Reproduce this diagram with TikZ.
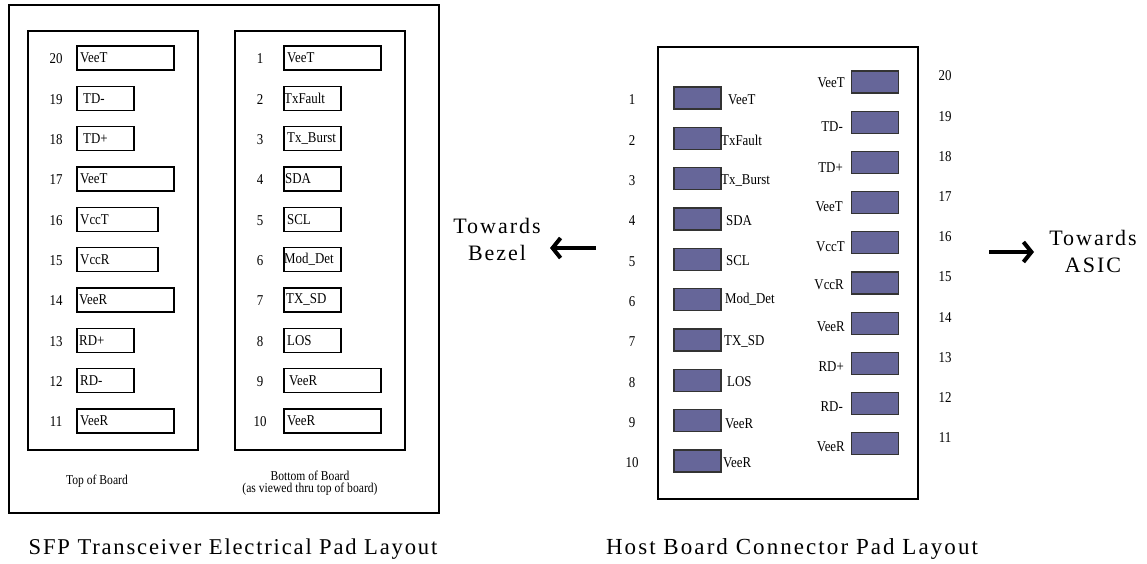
\documentclass[tikz,border=0pt]{standalone}
\usepackage{fontspec}
\setmainfont{Liberation Serif}
\newfontfamily\smallf[FakeStretch=0.86]{Liberation Serif}
\newfontfamily\spacedf[LetterSpace=9]{Liberation Serif}
\newfontfamily\spacedg[LetterSpace=8]{Liberation Serif}
\usetikzlibrary{arrows.meta}
\definecolor{padfill}{HTML}{666699}
\tikzset{
  frame/.style={draw=black, line width=1.6pt},
  wpad/.style={draw=black, line width=1.6pt, minimum height=24pt, inner sep=0pt, anchor=west},
  ptext/.style={font=\smallf\fontsize{15}{15}\selectfont, inner sep=0pt},
  captext/.style={font=\smallf\fontsize{13.5}{12}\selectfont, inner sep=0pt, align=center},
  fpad/.style={draw=black!80, line width=1.2pt, fill=padfill, minimum width=47pt, minimum height=22pt, inner sep=0pt},
  bigtext/.style={font=\spacedf\fontsize{22}{27}\selectfont, inner sep=0pt, align=center},
  titletext/.style={font=\spacedf\fontsize{23}{24}\selectfont, inner sep=0pt},
  dirarrow/.style={line width=4pt, -{Straight Barb[length=8pt,width=20pt]}},
}
\begin{document}
\begin{tikzpicture}[x=1pt,y=-1pt]
\useasboundingbox (0,0) rectangle (1147,564);
% ---------- left: SFP transceiver ----------
\node[frame, minimum width=430pt, minimum height=508pt, anchor=north west, inner sep=0pt] (outer) at (8,4) {};
\node[frame, minimum width=170pt, minimum height=419pt, anchor=north west, inner sep=0pt] (topb) at (27,30) {};
\node[frame, minimum width=170pt, minimum height=419pt, anchor=north west, inner sep=0pt] (botb) at (234,30) {};
% top of board pads: number / row / width / label / inset
\foreach \n/\r/\w/\t/\i in {20/0/97/VeeT/4, 19/1/57/TD-/7, 18/2/57/TD+/7, 17/3/97/VeeT/4, 16/4/81/VccT/4,
                            15/5/81/VccR/4, 14/6/97/VeeR/3, 13/7/57/RD+/3, 12/8/57/RD-/4, 11/9/97/VeeR/4} {
  \node[wpad, minimum width=\w pt] (tp\n) at (76, 58+\r*40.33) {};
  \node[ptext, anchor=west] (tpl\n) at ([xshift=\i pt]tp\n.west) {\t};
  \node[ptext] (tpn\n) at (56, 59+\r*40.33) {\n};
}
\foreach \n/\r/\w/\t/\i in {1/0/97/VeeT/4, 2/1/57/TxFault/1, 3/2/57/Tx\_Burst/4, 4/3/57/SDA/2, 5/4/57/SCL/4,
                            6/5/57/Mod\_Det/1, 7/6/57/TX\_SD/3, 8/7/57/LOS/4, 9/8/97/VeeR/6, 10/9/97/VeeR/4} {
  \node[wpad, minimum width=\w pt] (bp\n) at (283, 58+\r*40.33) {};
  \node[ptext, anchor=west] (bpl\n) at ([xshift=\i pt]bp\n.west) {\t};
  \node[ptext] (bpn\n) at (260, 59+\r*40.33) {\n};
}
\node[captext] (toplbl) at (97,481) {Top of Board};
\node[captext] (botlbl) at (310,483) {Bottom of Board\\(as viewed thru top of board)};
\node[titletext, font=\spacedg\fontsize{22.6}{24}\selectfont] (title1) at (233,549) {SFP Transceiver Electrical Pad Layout};
% ---------- right: host board ----------
\node[frame, minimum width=260pt, minimum height=452pt, anchor=north west, inner sep=0pt] (host) at (657,46) {};
\foreach \n/\r/\t/\lx/\ly in {1/0/VeeT/728/100, 2/1/TxFault/721/140, 3/2/Tx\_Burst/721/181, 4/3/SDA/726/221,
                              5/4/SCL/726/261, 6/5/Mod\_Det/725/299, 7/6/TX\_SD/724/341, 8/7/LOS/727/382,
                              9/8/VeeR/725/424, 10/9/VeeR/723/463} {
  \node[fpad] (hl\n) at (697.5, 98+\r*40.33) {};
  \node[ptext, anchor=west] (hll\n) at (\lx,\ly) {\t};
  \node[ptext] (hln\n) at (632, 100+\r*40.33) {\n};
}
\foreach \n/\r/\t/\lx/\ly in {20/0/VeeT/845/83, 19/1/TD-/843/127, 18/2/TD+/843/168, 17/3/VeeT/843/207,
                              16/4/VccT/845/247, 15/5/VccR/844/285, 14/6/VeeR/845/327, 13/7/RD+/844/367,
                              12/8/RD-/843/407, 11/9/VeeR/845/447} {
  \node[fpad] (hr\n) at (875, 82+\r*40.2) {};
  \node[ptext, anchor=east] (hrl\n) at (\lx,\ly) {\t};
  \node[ptext] (hrn\n) at (945, 76+\r*40.2) {\n};
}
\node[titletext] (title2) at (792,549) {Host Board Connector Pad Layout};
% ---------- direction arrows ----------
\node[bigtext] (bezel) at (497,239) {Towards\\Bezel};
\node[bigtext] (asic) at (1093,251) {Towards\\ASIC};
\coordinate (bz1) at (596,248);
\coordinate (bz2) at (550,248);
\coordinate (as1) at (989,252);
\coordinate (as2) at (1034,252);
\draw[dirarrow] (bz1) -- (bz2);
\draw[dirarrow] (as1) -- (as2);
\end{tikzpicture}
\end{document}
